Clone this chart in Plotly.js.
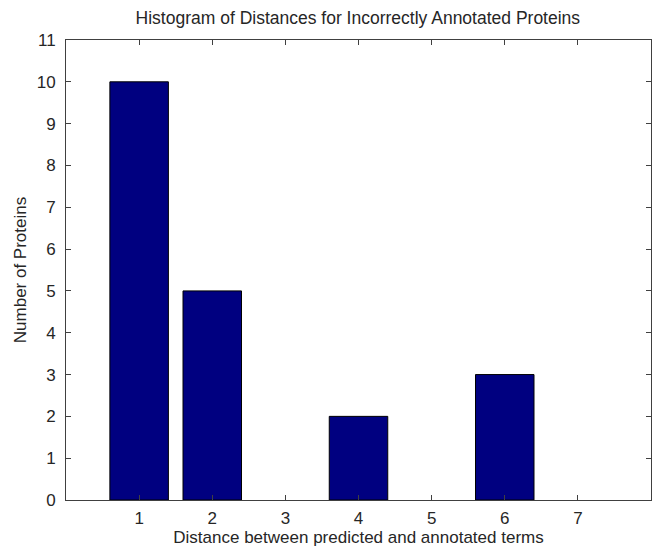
<!DOCTYPE html>
<html>
<head>
<meta charset="utf-8">
<script src="https://cdn.plot.ly/plotly-3.0.1.min.js"></script>
<style>html,body{margin:0;padding:0;background:#fff;}#chart{width:653px;height:547px;}</style>
</head>
<body>
<div id="chart"></div>
<script>
const distances = [1, 2, 3, 4, 5, 6, 7];
const counts = [10, 5, 0, 2, 0, 3, 0];
const xTicks = [1, 2, 3, 4, 5, 6, 7];
const yTicks = [0, 1, 2, 3, 4, 5, 6, 7, 8, 9, 10, 11];

const font = {family: 'Liberation Sans, Arial, sans-serif', color: '#262626'};

Plotly.newPlot('chart', [{
  type: 'bar',
  x: distances,
  y: counts,
  width: 0.8,
  marker: {color: '#000080', line: {color: '#000000', width: counts.map(v => v > 0 ? 1 : 0)}},
  hoverinfo: 'x+y'
}], {
  width: 653, height: 547,
  margin: {l: 66, r: 2, t: 40, b: 47},
  paper_bgcolor: '#ffffff', plot_bgcolor: '#ffffff',
  showlegend: false,
  font: Object.assign({size: 17}, font),
  title: {text: 'Histogram of Distances for Incorrectly Annotated Proteins',
          font: Object.assign({size: 17.5}, font), x: 0.548, xanchor: 'center', y: 0.968, yanchor: 'middle'},
  xaxis: {
    range: [0, 8], tickvals: xTicks, ticktext: xTicks.map(String),
    ticks: 'inside', ticklen: 5, tickcolor: '#404040', mirror: 'ticks',
    showline: true, linecolor: '#404040', linewidth: 1, showgrid: false, zeroline: false,
    tickfont: Object.assign({size: 17}, font), ticklabelstandoff: 3,
    title: {text: 'Distance between predicted and annotated terms', font: Object.assign({size: 17}, font), standoff: 2}
  },
  yaxis: {
    range: [0, 11], tickvals: yTicks, ticktext: yTicks.map(String),
    ticks: 'inside', ticklen: 5, tickcolor: '#404040', mirror: 'ticks',
    showline: true, linecolor: '#404040', linewidth: 1, showgrid: false, zeroline: false,
    tickfont: Object.assign({size: 17}, font), ticklabelstandoff: 6,
    title: {text: 'Number of Proteins', font: Object.assign({size: 17}, font), standoff: 5}
  }
}, {displayModeBar: false, staticPlot: true});
</script>
</body>
</html>
